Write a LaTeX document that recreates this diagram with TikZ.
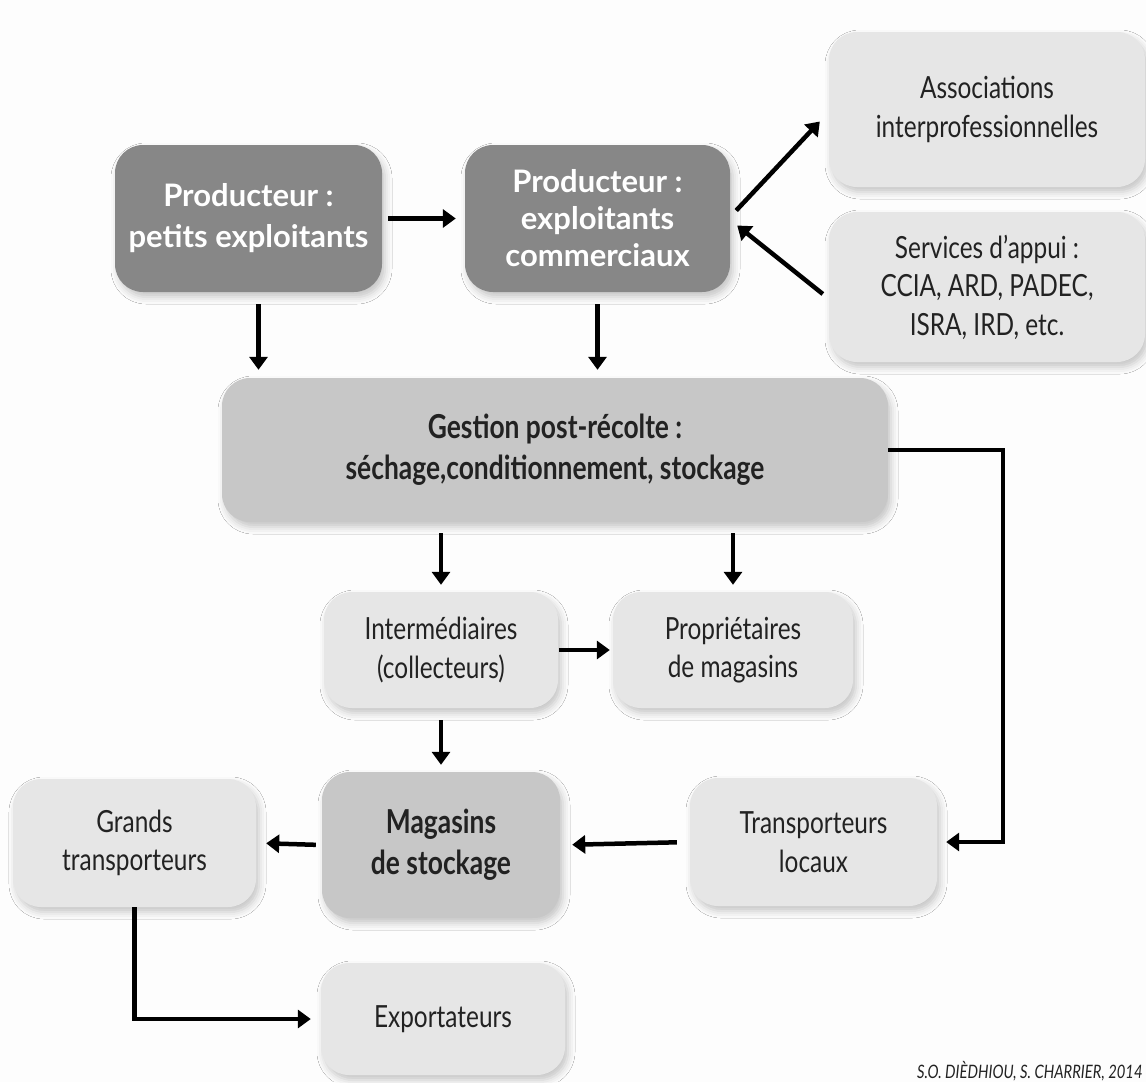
\documentclass[tikz,border=0pt]{standalone}
\usepackage{fontspec}
\setmainfont{Lato}[FakeStretch=0.8]
\newfontfamily\widefont{Lato}
\usetikzlibrary{arrows.meta,shadows.blur,calc}
\definecolor{bg}{HTML}{FDFDFD}
\definecolor{darkfill}{HTML}{878787}
\definecolor{midfill}{HTML}{C7C7C7}
\definecolor{lightfill}{HTML}{E6E6E6}
\definecolor{txt}{HTML}{222222}
\begin{document}
\begin{tikzpicture}[x=1pt,y=-1pt,
  box/.style={rounded corners=28pt, align=center, inner sep=0pt,
    blur shadow={shadow xshift=3pt, shadow yshift=-5pt, shadow blur radius=7pt, shadow opacity=22}},
  darkbox/.style={box, fill=darkfill, text=white, font=\widefont\bfseries\fontsize{31}{41}\selectfont},
  midbox/.style={box, fill=midfill, text=txt, font=\bfseries\fontsize{33}{41}\selectfont},
  lightbox/.style={box, fill=lightfill, text=txt, font=\fontsize{30.5}{38.5}\selectfont},
  arr/.style={line width=4.5pt, -{Triangle[length=13pt,width=18pt]}},
  elbow/.style={line width=4.5pt, -{Triangle[length=13pt,width=18pt]}}
]
\path[fill=bg] (0,0) rectangle (1146,1082);
\useasboundingbox (0,0) rectangle (1146,1082);

% nodes
\node[darkbox, minimum width=267pt, minimum height=147pt] (A) at (248.5,218.5) {Producteur :\\petits exploitants};
\node[darkbox, minimum width=265pt, minimum height=147pt, font=\widefont\bfseries\fontsize{31}{37}\selectfont] (B) at (597.5,218.5) {Producteur :\\exploitants\\commerciaux};
\node[lightbox, minimum width=316pt, minimum height=155pt] (C) at (987,109.5) {Associations\\interprofessionnelles};
\node[lightbox, minimum width=316pt, minimum height=150pt] (D) at (987,287) {Services d’appui :\\CCIA, ARD, PADEC,\\ISRA, IRD, etc.};
\node[midbox, minimum width=666pt, minimum height=144pt] (E) at (555,450) {Gestion post-récolte :\\séchage,conditionnement, stockage};
\node[lightbox, minimum width=234pt, minimum height=116pt] (F) at (441,650) {Intermédiaires\\(collecteurs)};
\node[lightbox, minimum width=240pt, minimum height=116pt] (G) at (733,650) {Propriétaires\\de magasins};
\node[midbox, minimum width=238pt, minimum height=146pt] (H) at (441,845) {Magasins\\de stockage};
\node[lightbox, minimum width=243pt, minimum height=128pt] (I) at (134.5,843) {Grands\\transporteurs};
\node[lightbox, minimum width=247pt, minimum height=128pt] (J) at (813.5,842) {Transporteurs\\locaux};
\node[lightbox, minimum width=244pt, minimum height=112pt] (K) at (443,1019) {Exportateurs};

% connectors
\draw[arr, shorten <=6pt, shorten >=9pt] (A.east) -- (B.west);
\draw[arr] ([xshift=6pt,yshift=8pt]B.east) -- ([xshift=-9pt,yshift=-12pt]C.west);
\draw[arr] ([xshift=-6pt,yshift=-7pt]D.west) -- ([xshift=7pt,yshift=-7pt]B.east);
\coordinate (a1) at ([xshift=10pt]A.south);
\draw[arr, shorten <=12pt, shorten >=8pt] (a1) -- (a1 |- E.north);
\draw[arr, shorten <=12pt, shorten >=8pt] (B.south) -- (B.south |- E.north);
\draw[arr, shorten <=11pt, shorten >=7pt] (F.north |- E.south) -- (F.north);
\draw[arr, shorten <=11pt, shorten >=7pt] (G.north |- E.south) -- (G.north);
\draw[arr, shorten <=1pt, shorten >=3pt] (F.east) -- (G.west);
\draw[arr, shorten <=12pt, shorten >=7pt] (F.south) -- (H.north);
\draw[elbow, shorten >=9pt] (E.east) -- ++(115,0) |- (J.east);
\draw[arr, shorten <=13pt, shorten >=12pt] (J.west) -- (H.east);
\draw[arr, shorten <=6pt, shorten >=10pt] (H.west) -- (I.east);
\draw[elbow, shorten >=10pt] (I.south) |- (K.west);

% credit
\node[anchor=base west, inner sep=0pt, text=txt, font=\itshape\fontsize{18.5}{18.5}\selectfont] (credit) at (917,1078) {S.O. DIÈDHIOU, S. CHARRIER, 2014};
\end{tikzpicture}
\end{document}
